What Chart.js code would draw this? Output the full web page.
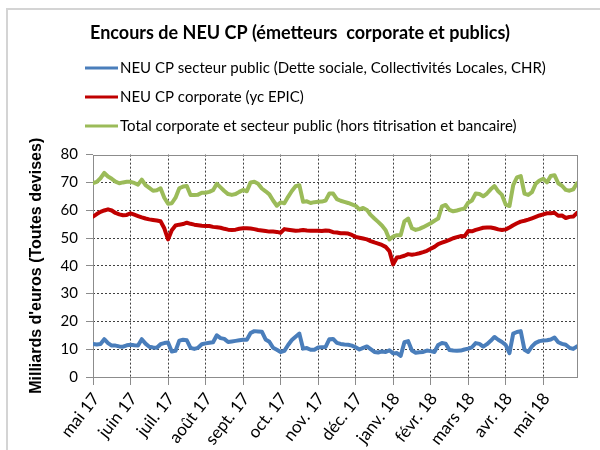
<!DOCTYPE html>
<html><head><meta charset="utf-8">
<script src="https://cdn.jsdelivr.net/npm/chart.js@4/dist/chart.umd.min.js"></script>
<style>html,body{margin:0;padding:0;background:#fff}#wrap{width:600px;height:450px}</style>
</head><body><div id="wrap"><canvas id="c" width="600" height="450"></canvas></div>
<script>
// Tick labels (one per month, every 10 observations)
const monthLabels = ["mai 17","juin 17","juil. 17","août 17","sept. 17","oct. 17","nov. 17","déc. 17","janv. 18","févr. 18","mars 18","avr. 18","mai 18"];
const seriesNames = [
  "NEU CP secteur public (Dette sociale, Collectivités Locales, CHR)",
  "NEU CP corporate (yc EPIC)",
  "Total corporate et secteur public (hors titrisation et bancaire)"
];
// NEU CP secteur public
const publicSector = [
11.9,11.7,11.9,13.6,12.2,11.3,11.3,11.0,10.9,11.4,
11.6,11.4,11.3,13.6,12.0,10.9,10.6,10.5,11.8,12.2,
12.4,9.2,9.4,13.1,13.4,13.2,10.5,10.1,10.5,11.8,
12.1,12.3,12.5,15.0,14.0,13.7,12.6,12.8,13.0,13.2,
13.4,13.4,15.8,16.5,16.4,16.3,13.5,12.7,10.5,9.8,
9.0,9.4,11.5,13.3,14.5,15.6,10.2,10.4,9.8,9.8,
10.6,10.7,10.8,13.6,13.7,12.3,11.9,11.7,11.6,11.3,
10.7,9.9,10.5,11.0,10.0,9.0,8.8,9.2,9.0,9.6,
8.5,8.6,7.6,12.5,12.9,9.5,8.7,8.9,9.0,9.5,
9.3,9.0,11.5,12.2,12.0,9.7,9.5,9.4,9.5,9.9,
10.2,10.7,12.2,11.9,10.9,11.8,13.0,14.4,13.4,12.6,
11.5,8.6,15.6,16.2,16.5,9.8,9.0,11.0,12.3,12.9,
13.1,13.2,13.5,14.2,12.5,11.9,11.6,10.5,10.1,11.0
];
// NEU CP corporate
const corporate = [
57.7,58.6,59.4,59.9,60.3,59.9,59.0,58.5,58.2,58.3,
58.9,58.4,57.9,57.4,57.0,56.7,56.5,56.3,56.0,53.5,
49.5,52.8,54.5,54.8,55.0,55.5,55.1,54.8,54.6,54.4,
54.3,54.3,54.0,53.9,53.7,53.3,53.0,52.9,53.0,53.3,
53.5,53.5,53.4,53.2,52.9,52.7,52.5,52.3,52.3,52.2,
51.9,53.2,53.0,52.8,52.6,52.7,52.9,52.7,52.6,52.6,
52.6,52.5,52.7,52.6,52.1,52.0,51.7,51.7,51.6,51.1,
50.4,50.1,49.8,49.5,48.9,48.4,48.0,47.5,46.8,45.3,
40.5,43.0,43.2,43.6,44.2,44.0,44.2,44.5,44.9,45.4,
46.1,46.8,47.8,48.3,48.8,49.3,49.9,50.3,50.7,50.6,
52.5,52.4,52.9,53.3,53.7,53.8,53.8,53.5,53.1,52.9,
53.1,53.8,54.6,55.3,55.9,56.2,56.6,57.1,57.6,58.1,
58.5,58.9,58.9,59.1,58.0,58.1,57.2,57.6,57.7,59.0
];
// Total corporate et secteur public
const total = [
69.7,70.2,71.5,73.4,72.1,71.3,70.3,69.7,70.0,70.2,
70.2,69.8,69.2,71.0,69.0,68.0,67.0,67.2,67.9,64.5,
62.3,62.5,64.5,67.9,68.5,68.7,65.5,65.5,65.6,66.3,
66.3,66.6,67.2,69.5,68.2,66.9,65.8,65.5,65.8,66.6,
67.3,66.8,70.0,70.2,69.5,67.8,66.8,65.7,63.5,61.6,
62.8,62.5,64.8,66.9,68.6,69.0,63.0,63.2,62.6,62.9,
63.0,63.1,63.5,66.0,66.0,64.0,63.4,63.0,62.6,62.1,
61.6,60.3,60.8,60.1,58.3,57.0,55.8,54.5,52.8,49.5,
50.5,51.0,51.0,56.0,57.0,53.5,52.9,53.3,53.9,54.6,
55.3,56.2,57.0,61.4,61.9,60.1,59.6,59.9,60.3,60.6,
62.7,63.5,66.0,65.8,65.0,66.0,67.5,68.7,66.8,65.5,
62.0,61.5,69.0,71.8,72.3,66.0,65.5,66.5,69.5,70.7,
71.3,70.0,72.3,72.6,69.7,68.8,67.3,67.0,67.5,69.7
];
const yTicks = [0,10,20,30,40,50,60,70,80];
const colors = ['#4a7ebb', '#c00000', '#9bbb59'];

const toXY = arr => arr.map((v, i) => ({x: i, y: v}));

const frame = {
  id: 'frame',
  beforeDraw(chart) {
    const ctx = chart.ctx;
    ctx.save();
    ctx.fillStyle = '#fff';
    ctx.fillRect(0, 0, chart.width, chart.height);
    ctx.strokeStyle = '#d4d4d4';
    ctx.lineWidth = 2;
    ctx.strokeRect(7, 9, 620, 470);
    ctx.restore();
  },
  beforeDatasetsDraw(chart) {
    const {ctx, chartArea: a} = chart;
    ctx.save();
    ctx.strokeStyle = '#8c8c8c';
    ctx.lineWidth = 1;
    ctx.strokeRect(Math.round(a.left) + 0.5, Math.round(a.top) + 0.5,
                   Math.round(a.right - a.left), Math.round(a.bottom - a.top));
    ctx.restore();
  },
  afterDraw(chart) {
    const ctx = chart.ctx;
    ctx.save();
    ctx.font = '15px Lato';
    ctx.textBaseline = 'middle';
    ctx.textAlign = 'left';
    chart.data.datasets.forEach((ds, i) => {
      const y = 68 + i * 29;
      ctx.strokeStyle = ds.borderColor;
      ctx.lineWidth = 3;
      ctx.beginPath();
      ctx.moveTo(85, y);
      ctx.lineTo(118, y);
      ctx.stroke();
      ctx.fillStyle = '#000';
      ctx.fillText(ds.label, 120, y);
    });
    ctx.restore();
  }
};

new Chart(document.getElementById('c'), {
  type: 'line',
  data: {
    datasets: [
      {label: seriesNames[0], data: toXY(publicSector), borderColor: colors[0]},
      {label: seriesNames[1], data: toXY(corporate), borderColor: colors[1]},
      {label: seriesNames[2], data: toXY(total), borderColor: colors[2]}
    ]
  },
  options: {
    responsive: false,
    animation: false,
    devicePixelRatio: 1,
    parsing: false,
    elements: {
      line: {borderWidth: 4, tension: 0, borderJoinStyle: 'round', borderCapStyle: 'round', fill: false},
      point: {radius: 0, hoverRadius: 0}
    },
    layout: {padding: {left: 0, right: 0, top: 0, bottom: 0}},
    plugins: {
      legend: {display: false},
      tooltip: {enabled: false},
      title: {
        display: true,
        text: 'Encours de NEU CP (émetteurs  corporate et publics)',
        color: '#000',
        font: {family: 'Lato', size: 18, weight: 'bold'},
        padding: {top: 22, bottom: 111}
      }
    },
    scales: {
      x: {
        type: 'linear',
        min: 0,
        max: publicSector.length - 1,
        afterBuildTicks: s => { s.ticks = monthLabels.map((m, k) => ({value: k * 10})); },
        afterFit: s => { s.height = 73; },
        ticks: {
          autoSkip: false,
          minRotation: 52,
          maxRotation: 52,
          padding: 4,
          labelOffset: 3,
          color: '#000',
          font: {family: 'Lato', size: 17},
          callback: v => monthLabels[Math.round(v / 10)]
        },
        grid: {
          color: c => (c.tick && c.tick.value === 0) ? 'rgba(0,0,0,0)' : '#404040',
          lineWidth: 1,
          tickColor: '#8c8c8c',
          tickLength: 8
        },
        border: {display: false, dash: [2, 2]}
      },
      y: {
        min: 0,
        max: 80,
        afterBuildTicks: s => { s.ticks = yTicks.map(v => ({value: v})); },
        afterFit: s => { s.width = 93; },
        ticks: {
          padding: 8,
          color: '#000',
          font: {family: 'Lato', size: 15}
        },
        grid: {
          color: c => (c.tick && (c.tick.value === 0 || c.tick.value === 80)) ? 'rgba(0,0,0,0)' : '#404040',
          lineWidth: 1,
          tickColor: '#8c8c8c',
          tickLength: 7
        },
        border: {display: false, dash: [2, 2]},
        title: {
          display: true,
          text: "Milliards d'euros (Toutes devises)",
          color: '#000',
          font: {family: 'Liberation Sans', size: 16, weight: 'bold'},
          padding: {top: 27, bottom: 0}
        }
      },
      yRight: {
        position: 'right',
        display: true,
        afterFit: s => { s.width = 23; },
        ticks: {display: false},
        grid: {drawOnChartArea: false, drawTicks: false},
        border: {display: false}
      }
    }
  },
  plugins: [frame]
});
</script>
</body></html>
